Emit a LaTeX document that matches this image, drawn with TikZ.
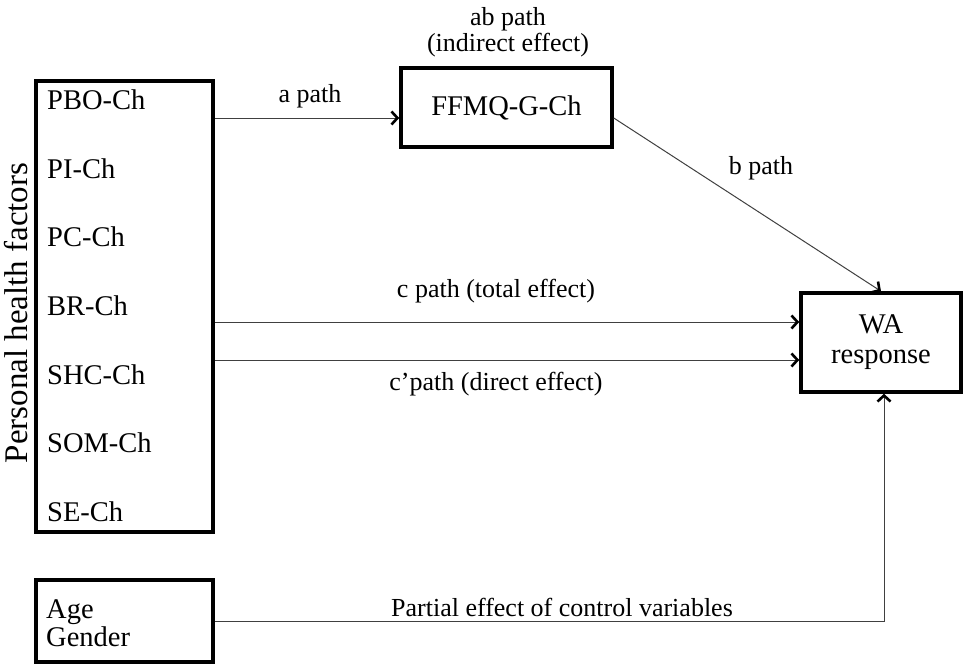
\documentclass[tikz,border=0pt]{standalone}
\usepackage{fontspec}
\setmainfont{Liberation Serif}
\usetikzlibrary{arrows.meta}
\tikzset{
  boxline/.style={draw, line width=3.5pt, inner sep=0pt},
  conn/.style={draw=black!75, line width=1pt},
  arr/.style={conn, -{Straight Barb[length=6pt,width=13pt,line width=2.6pt,black]}},
  boxtext/.style={font=\fontsize{28.5}{32}\selectfont, inner sep=0pt},
  itemtext/.style={boxtext, anchor=west},
  lbl/.style={font=\fontsize{26}{29}\selectfont, inner sep=0pt}}
\begin{document}
\begin{tikzpicture}[x=1pt,y=-1pt]
\useasboundingbox (0,0) rectangle (963,664);
% boxes
\node[boxline, minimum width=177pt, minimum height=451pt] (left) at (124.5,306.5) {};
\node[boxline, minimum width=177pt, minimum height=82pt] (age) at (124.5,621) {};
\node[boxline, minimum width=211pt, minimum height=79pt] (ffmq) at (506.5,107.5) {};
\node[boxline, minimum width=160pt, minimum height=99pt] (wa) at (881,342.5) {};
% box texts
\node[boxtext] (ffmqt) at (ffmq.center) {FFMQ-G-Ch};
\node[boxtext, align=center] (wat) at (wa.center) {WA\\[-2pt]response};
\node[itemtext] (i1) at (47,100) {PBO-Ch};
\node[itemtext] (i2) at (47,169) {PI-Ch};
\node[itemtext] (i3) at (47,237) {PC-Ch};
\node[itemtext] (i4) at (47,306) {BR-Ch};
\node[itemtext] (i5) at (47,375) {SHC-Ch};
\node[itemtext] (i6) at (47,443) {SOM-Ch};
\node[itemtext] (i7) at (47,512) {SE-Ch};
\node[boxtext, anchor=west, align=left] (aget) at (46,623) {Age\\[-4pt]Gender};
\node[font=\fontsize{33}{35}\selectfont, inner sep=0pt, rotate=90] (phf) at (16,313) {Personal health factors};
% connectors
\coordinate (aend) at ([yshift=-10.5pt]ffmq.west);
\draw[arr] (left.east |- aend) -- (aend);
\coordinate (cend) at ([yshift=20.5pt]wa.west);
\draw[arr] (left.east |- cend) -- (cend);
\coordinate (cpend) at ([yshift=-17.5pt]wa.west);
\draw[arr] (left.east |- cpend) -- (cpend);
\draw[arr] ([yshift=-10.5pt]ffmq.east) -- (wa.north);
\coordinate (pend) at ([xshift=3pt]wa.south);
\draw[arr] (age.east) -| (pend);
% labels
\node[lbl, align=center] (ab) at (508,32) {ab path\\[-3pt](indirect effect)};
\node[lbl] (alab) at (310,96) {a path};
\node[lbl] (blab) at (761,168) {b path};
\node[lbl] (clab) at (496,291) {c path (total effect)};
\node[lbl] (cplab) at (496,384) {c’path (direct effect)};
\node[lbl] (plab) at (562,607) {Partial effect of control variables};
\end{tikzpicture}
\end{document}
